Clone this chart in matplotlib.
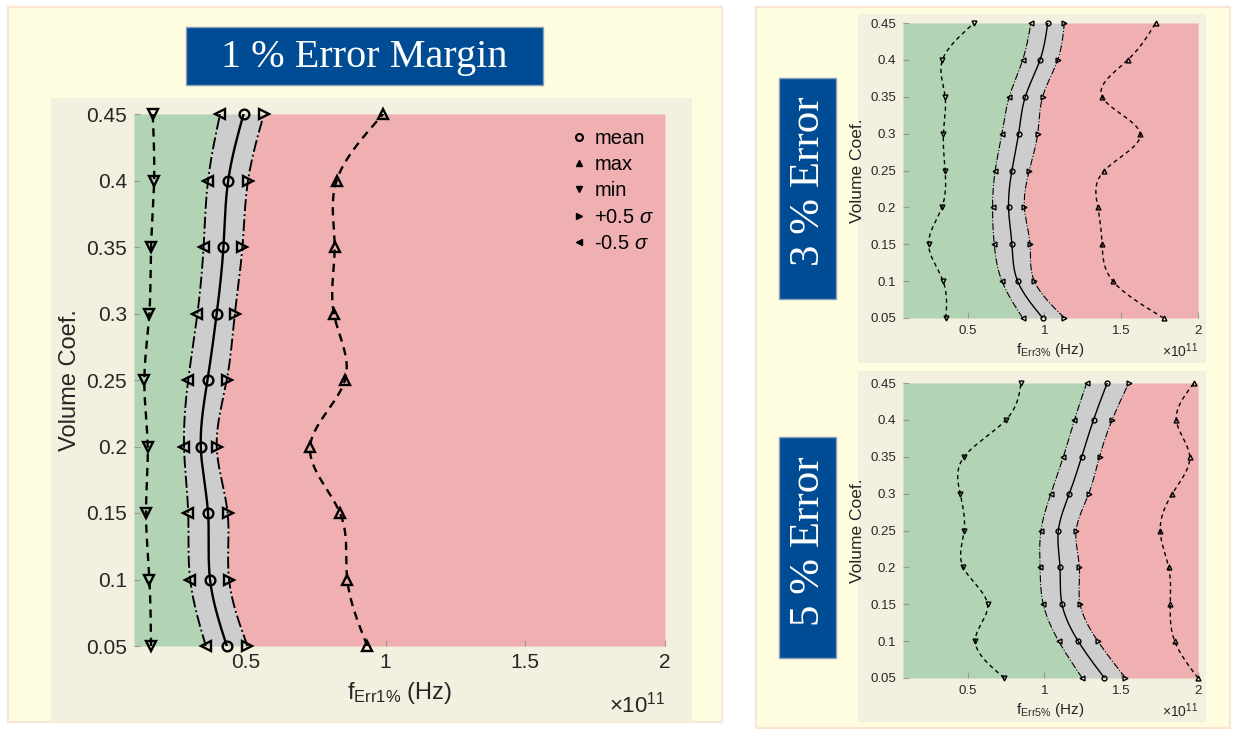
import numpy as np
import matplotlib
matplotlib.use("Agg")
import matplotlib.pyplot as plt
from matplotlib.patches import Rectangle
from matplotlib.lines import Line2D

plt.rcParams['font.family'] = ['Liberation Sans', 'DejaVu Sans']
plt.rcParams['mathtext.fontset'] = 'custom'
plt.rcParams['mathtext.rm'] = 'Liberation Sans'
plt.rcParams['mathtext.it'] = 'Liberation Sans:italic'
plt.rcParams['mathtext.sf'] = 'Liberation Sans'

# ---------------- data (x in units of 1e11 Hz) ----------------
vol_coef = [0.05, 0.10, 0.15, 0.20, 0.25, 0.30, 0.35, 0.40, 0.45]
x_ticks = [0.5, 1, 1.5, 2]
x_tick_labels = ['0.5', '1', '1.5', '2']
y_ticks = [0.05, 0.1, 0.15, 0.2, 0.25, 0.3, 0.35, 0.4, 0.45]
y_tick_labels = ['0.05', '0.1', '0.15', '0.2', '0.25', '0.3', '0.35', '0.4', '0.45']

# 1 % error
min_1 = [0.161, 0.155, 0.143, 0.149, 0.137, 0.155, 0.161, 0.172, 0.167]
minus_1 = [0.357, 0.301, 0.294, 0.279, 0.294, 0.327, 0.349, 0.365, 0.408]
mean_1 = [0.432, 0.372, 0.365, 0.339, 0.363, 0.396, 0.420, 0.437, 0.492]
plus_1 = [0.506, 0.440, 0.435, 0.396, 0.432, 0.461, 0.488, 0.508, 0.565]
max_1 = [0.935, 0.863, 0.837, 0.730, 0.855, 0.815, 0.818, 0.825, 0.992]

# 3 % error
min_3 = [0.359, 0.341, 0.246, 0.333, 0.354, 0.343, 0.354, 0.337, 0.543]
minus_3 = [0.859, 0.724, 0.674, 0.663, 0.680, 0.724, 0.772, 0.859, 0.913]
mean_3 = [0.989, 0.826, 0.789, 0.767, 0.789, 0.833, 0.876, 0.972, 1.022]
plus_3 = [1.130, 0.935, 0.907, 0.870, 0.902, 0.957, 0.989, 1.087, 1.130]
max_3 = [1.776, 1.446, 1.376, 1.348, 1.391, 1.624, 1.376, 1.543, 1.724]

# 5 % error
min_5 = [0.739, 0.550, 0.630, 0.472, 0.478, 0.452, 0.478, 0.750, 0.848]
minus_5 = [1.246, 1.093, 0.993, 0.972, 0.978, 1.043, 1.124, 1.196, 1.276]
mean_5 = [1.391, 1.220, 1.115, 1.102, 1.091, 1.163, 1.243, 1.320, 1.409]
plus_5 = [1.528, 1.348, 1.233, 1.228, 1.207, 1.289, 1.359, 1.441, 1.550]
max_5 = [2.000, 1.848, 1.820, 1.809, 1.754, 1.833, 1.946, 1.859, 1.974]

legend_labels = ['mean', 'max', 'min', r'+0.5 $\sigma$', r'-0.5 $\sigma$']

GREEN = '#b3d4b4'
GRAY = '#cdcdcd'
PINK = '#f0b0b2'
YELLOW = '#fefde0'
BEIGE = '#f4f0e0'
BLUE = '#004c94'
TXT = '#262626'

W, H = 1233, 729


def spline(t, v, tt):
    t = np.asarray(t, float); v = np.asarray(v, float)
    n = len(t); h = np.diff(t)
    A = np.zeros((n, n)); r = np.zeros(n)
    A[0, 0] = 1; A[-1, -1] = 1
    for i in range(1, n - 1):
        A[i, i - 1] = h[i - 1]; A[i, i] = 2 * (h[i - 1] + h[i]); A[i, i + 1] = h[i]
        r[i] = 3 * ((v[i + 1] - v[i]) / h[i] - (v[i] - v[i - 1]) / h[i - 1])
    c = np.linalg.solve(A, r)
    b = (v[1:] - v[:-1]) / h - h * (2 * c[:-1] + c[1:]) / 3
    d = (c[1:] - c[:-1]) / (3 * h)
    idx = np.clip(np.searchsorted(t, tt) - 1, 0, n - 2)
    dt = tt - t[idx]
    return v[idx] + b[idx] * dt + c[idx] * dt ** 2 + d[idx] * dt ** 3


def fig_rect(fig, x0, y0, x1, y1, **kw):
    fig.patches.append(Rectangle((x0 / W, 1 - y1 / H), (x1 - x0) / W, (y1 - y0) / H,
                                 transform=fig.transFigure, zorder=-10, **kw))


def ax_box(fig, x0, y0, x1, y1):
    return fig.add_axes([x0 / W, 1 - y1 / H, (x1 - x0) / W, (y1 - y0) / H])


def draw_panel(ax, data, xlim, lw, ms, fs_tick, fs_ylab, fs_xlab, fs_mult, err, dash,
               xl_pad, mult_y):
    mn, minus, mean, plus, mx = data
    yy = np.linspace(0.05, 0.45, 400)
    c_min = spline(vol_coef, mn, yy)
    c_minus = spline(vol_coef, minus, yy)
    c_mean = spline(vol_coef, mean, yy)
    c_plus = spline(vol_coef, plus, yy)
    c_max = spline(vol_coef, mx, yy)
    ax.fill_betweenx(yy, xlim[0], c_minus, color=GREEN, lw=0)
    ax.fill_betweenx(yy, c_minus, c_plus, color=GRAY, lw=0)
    ax.fill_betweenx(yy, c_plus, xlim[1], color=PINK, lw=0)
    mk = dict(ms=ms, mfc='none', mec='k', mew=lw, ls='none', clip_on=False)
    ax.plot(c_min, yy, color='k', lw=lw, dashes=dash)
    ax.plot(mn, vol_coef, marker='v', **mk)
    ax.plot(c_max, yy, color='k', lw=lw, dashes=dash)
    ax.plot(mx, vol_coef, marker='^', **mk)
    ax.plot(c_minus, yy, color='k', lw=lw * 0.8, ls='-.')
    ax.plot(minus, vol_coef, marker='<', **mk)
    ax.plot(c_plus, yy, color='k', lw=lw * 0.8, ls='-.')
    ax.plot(plus, vol_coef, marker='>', **mk)
    ax.plot(c_mean, yy, color='k', lw=lw)
    ax.plot(mean, vol_coef, marker='o', **mk)
    ax.set_xlim(*xlim)
    ax.set_ylim(0.05, 0.45)
    ax.set_facecolor('none')
    for s in ax.spines.values():
        s.set_visible(False)
    ax.set_xticks(x_ticks)
    ax.set_xticklabels(x_tick_labels)
    ax.set_yticks(y_ticks)
    ax.set_yticklabels(y_tick_labels)
    ax.tick_params(direction='in', length=4, color='#999999', labelcolor=TXT,
                   labelsize=fs_tick, pad=5)
    ax.set_ylabel('Volume Coef.', fontsize=fs_ylab, color=TXT)
    ax.set_xlabel(r'f$_{\mathrm{Err' + err + r'\%}}$ (Hz)', fontsize=fs_xlab,
                  color=TXT, labelpad=xl_pad)
    ax.text(1.0, mult_y, r'$\times$10$^{11}$', transform=ax.transAxes, ha='right',
            va='top', fontsize=fs_mult, color=TXT)


fig = plt.figure(figsize=(W / 100, H / 100), dpi=100, facecolor='white')

# panels
fig_rect(fig, 8, 7, 722, 722, facecolor=YELLOW, edgecolor='#fbe6d6', lw=1.5)
fig_rect(fig, 756, 7, 1230, 728, facecolor=YELLOW, edgecolor='#fbe6d6', lw=1.5)
fig_rect(fig, 51, 98, 692, 722, facecolor=BEIGE, edgecolor='none')
fig_rect(fig, 858, 14, 1206, 363, facecolor=BEIGE, edgecolor='none')
fig_rect(fig, 858, 371, 1206, 722, facecolor=BEIGE, edgecolor='none')

# title boxes
fig_rect(fig, 186, 27, 543, 85, facecolor=BLUE, edgecolor='#8aa0b8', lw=1)
fig.text((186 + 543) / 2 / W, 1 - 58 / H, '1 % Error Margin', color='white',
         fontsize=29, family='Liberation Serif', ha='center', va='center')
fig_rect(fig, 779, 78, 836, 299, facecolor=BLUE, edgecolor='#8aa0b8', lw=1)
fig.text(809 / W, 1 - 181 / H, '3 % Error', color='white', rotation=90,
         fontsize=31, family='Liberation Serif', ha='center', va='center')
fig_rect(fig, 779, 437, 836, 658, facecolor=BLUE, edgecolor='#8aa0b8', lw=1)
fig.text(809 / W, 1 - 541 / H, '5 % Error', color='white', rotation=90,
         fontsize=31, family='Liberation Serif', ha='center', va='center')

# main panel
ax1 = ax_box(fig, 134, 114, 665, 646)
draw_panel(ax1, (min_1, minus_1, mean_1, plus_1, max_1), (0.1, 2.0),
           lw=1.7, ms=7, fs_tick=15, fs_ylab=17, fs_xlab=17, fs_mult=16, err='1',
           dash=[3.5, 2.5], xl_pad=6, mult_y=-0.085)
handles = [Line2D([], [], ls='none', marker=m, mfc='k', mec='k', ms=5)
           for m in ['o', '^', 'v', '>', '<']]
handles[0] = Line2D([], [], ls='none', marker='o', mfc='none', mec='k', mew=1.5, ms=5)
ax1.legend(handles, legend_labels, loc='upper right', frameon=False, fontsize=14.5,
           handlelength=0.5, handletextpad=0.5, labelspacing=0.36,
           borderaxespad=0, bbox_to_anchor=(0.995, 0.987))

# 3 % panel
ax2 = ax_box(fig, 903, 23, 1198, 318)
draw_panel(ax2, (min_3, minus_3, mean_3, plus_3, max_3), (0.08, 2.0),
           lw=1.0, ms=3.5, fs_tick=9.5, fs_ylab=12.5, fs_xlab=11, fs_mult=10, err='3',
           dash=[3, 2.5], xl_pad=3, mult_y=-0.08)

# 5 % panel
ax3 = ax_box(fig, 903, 383, 1198, 678)
draw_panel(ax3, (min_5, minus_5, mean_5, plus_5, max_5), (0.08, 2.0),
           lw=1.0, ms=3.5, fs_tick=9.5, fs_ylab=12.5, fs_xlab=11, fs_mult=10, err='5',
           dash=[3, 2.5], xl_pad=3, mult_y=-0.08)

fig.savefig('out.png', dpi=100, facecolor='white')
